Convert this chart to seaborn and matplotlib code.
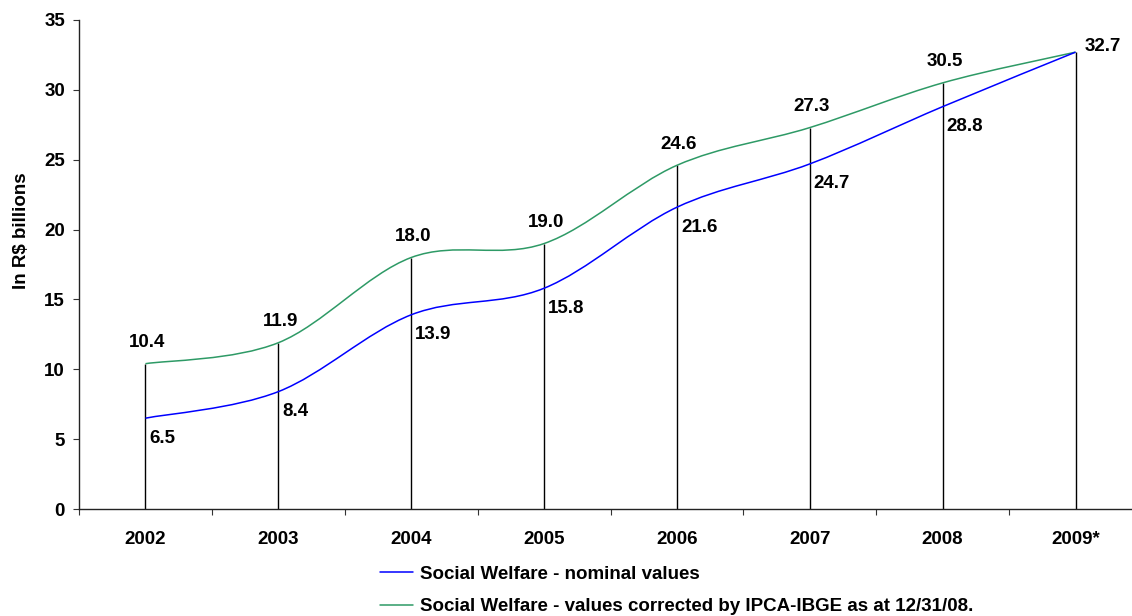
import numpy as np
import matplotlib
matplotlib.use("Agg")
import matplotlib.pyplot as plt
import seaborn as sns
from matplotlib.path import Path
from matplotlib.patches import PathPatch
from matplotlib.lines import Line2D

years = ["2002", "2003", "2004", "2005", "2006", "2007", "2008", "2009*"]
nominal = [6.5, 8.4, 13.9, 15.8, 21.6, 24.7, 28.8, 32.7]
corrected = [10.4, 11.9, 18.0, 19.0, 24.6, 27.3, 30.5, 32.7]
labels = ["Social Welfare - nominal values",
          "Social Welfare - values corrected by IPCA-IBGE as at 12/31/08."]

blue = "#0000ff"
green = "#2e9a66"
fs = 13.5

sns.set_style("white")
plt.rcParams["font.family"] = ["Liberation Sans", "DejaVu Sans"]
plt.rcParams["font.weight"] = "bold"
plt.rcParams["text.color"] = "black"


def smooth_path(xs, ys):
    # excel-style smoothed line: catmull-rom converted to cubic bezier
    pts = np.column_stack([xs, ys]).astype(float)
    verts = [pts[0]]
    codes = [Path.MOVETO]
    n = len(pts)
    for i in range(n - 1):
        p0 = pts[i - 1] if i > 0 else pts[i]
        p1, p2 = pts[i], pts[i + 1]
        p3 = pts[i + 2] if i + 2 < n else pts[i + 1]
        c1 = p1 + (p2 - p0) / 6
        c2 = p2 - (p3 - p1) / 6
        verts += [c1, c2, p2]
        codes += [Path.CURVE4] * 3
    return Path(verts, codes)


fig = plt.figure(figsize=(11.32, 6.16), dpi=100)
ax = fig.add_axes([79 / 1132, 1 - 509 / 616, (1142 - 79) / 1132, (509 - 20) / 616])

x = np.arange(len(years))

# drop lines
ax.vlines(x, 0, np.maximum(nominal, corrected), color="black", lw=1.0, zorder=2)

for vals, col in [(corrected, green), (nominal, blue)]:
    ax.add_patch(PathPatch(smooth_path(x, vals), facecolor="none",
                           edgecolor=col, lw=1.1, zorder=3))

# value labels
for i, (n_, c_) in enumerate(zip(nominal, corrected)):
    if i == len(years) - 1:
        ax.annotate(f"{c_:.1f}", (i, c_), xytext=(9, 6), textcoords="offset pixels",
                    ha="left", va="center", fontsize=fs, fontweight="bold", color="black")
        continue
    ax.annotate(f"{c_:.1f}", (i, c_), xytext=(2, 21), textcoords="offset pixels",
                ha="center", va="center", fontsize=fs, fontweight="bold", color="black")
    ax.annotate(f"{n_:.1f}", (i, n_), xytext=(4, -20), textcoords="offset pixels",
                ha="left", va="center", fontsize=fs, fontweight="bold", color="black")

ax.set_xlim(-0.5, len(years) - 0.5)
ax.set_ylim(0, 35)
ax.set_yticks(range(0, 36, 5))
ax.set_yticklabels([str(v) for v in range(0, 36, 5)], fontsize=fs, fontweight="bold")
ax.set_xticks(np.arange(-0.5, len(years), 1.0))
ax.set_xticklabels([])
ax.set_xticks(x, minor=True)
ax.set_xticklabels(years, minor=True, fontsize=fs, fontweight="bold")
ax.tick_params(axis="x", which="major", bottom=True, direction="out", length=4,
               width=0.8, color="#333333")
ax.tick_params(axis="x", which="minor", bottom=True, length=0, pad=16, labelcolor="black")
ax.tick_params(axis="y", left=True, direction="out", length=4, width=0.8,
               color="#333333", pad=6, labelcolor="black")
ax.set_ylabel("In R$ billions", fontsize=fs, fontweight="bold", color="black")
ax.yaxis.set_label_coords(-0.046, 0.57)

for s in ["top", "right"]:
    ax.spines[s].set_visible(False)
for s in ["left", "bottom"]:
    ax.spines[s].set_color("#222222")
    ax.spines[s].set_linewidth(1.0)

handles = [Line2D([], [], color=blue, lw=1.1), Line2D([], [], color=green, lw=1.1)]
fig.legend(handles, labels, loc="upper left", bbox_to_anchor=(363 / 1132, 1 - 549 / 616),
           frameon=False, prop={"weight": "bold", "size": fs},
           handlelength=1.76, handletextpad=0.4, labelspacing=0.8)

fig.savefig("out.png", dpi=100)
